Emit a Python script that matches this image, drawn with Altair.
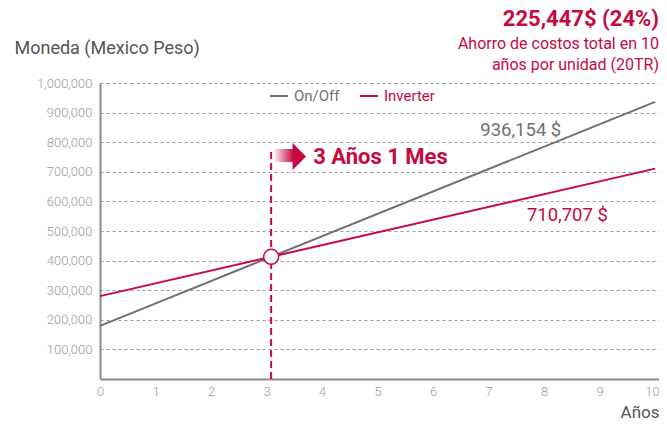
import altair as alt
import pandas as pd

# ---- data ----
years = [0, 10]
onoff_cost = [179500, 936154]
inverter_cost = [280000, 710707]
series_names = ["On/Off", "Inverter"]
series_colors = ["#707070", "#c6093f"]
x_ticks = [0, 1, 2, 3, 4, 5, 6, 7, 8, 9, 10]
y_ticks = [100000, 200000, 300000, 400000, 500000, 600000, 700000, 800000, 900000, 1000000]

break_year = 3.083
break_value = 412800
dash_top = 780000
arrow_shaft_x = [3.12, 3.48]
arrow_shaft_y = [733000, 777000]
arrow_head_x = [3.59]
arrow_head_y = [752000]
arrow_text = ["3 Años 1 Mes"]
arrow_text_x = [3.84]
arrow_text_y = [726000]
end_labels = ["936,154 $", "710,707 $"]
end_label_x = [6.85, 7.69]
end_label_y = [840000, 554000]

RED = series_colors[1]
GRAY = series_colors[0]
FONT = "Roboto"

rows = []
for yr, a, b in zip(years, onoff_cost, inverter_cost):
    rows.append({"Año": yr, "Costo": a, "Serie": series_names[0]})
    rows.append({"Año": yr, "Costo": b, "Serie": series_names[1]})
df = pd.DataFrame(rows)

W, H = 559, 296
xscale = alt.Scale(domain=[0, 10.07], nice=False, zero=False)
yscale = alt.Scale(domain=[0, 1000000], nice=False)

x_axis = alt.Axis(values=x_ticks, tickCount=11, format="d", grid=False, ticks=False,
                  domainColor="#8a8a8a", domainWidth=2,
                  labelColor="#9a9a9a", labelFont=FONT, labelFontSize=13,
                  labelFontWeight=300, labelPadding=6, labelOverlap=False,
                  labelAlign=alt.condition("datum.value >= 10", alt.value("right"), alt.value("center")),
                  labelOffset=alt.condition("datum.value >= 10", alt.value(4), alt.value(0)),
                  title="Años", titleFont=FONT, titleFontSize=17,
                  titleFontWeight="normal", titleColor="#555555",
                  titleAlign="right", titleAnchor="end", titleX=W, titleY=38,
                  titleBaseline="alphabetic")
y_axis = alt.Axis(values=y_ticks, tickCount=11, format=",d", ticks=False,
                  domainColor="#8a8a8a", domainWidth=2,
                  grid=True, gridDash=[3, 3], gridColor="#9a9a9a", gridWidth=1,
                  labelColor="#9a9a9a", labelFont=FONT, labelFontSize=13,
                  labelFontWeight=300, labelPadding=8, labelOverlap=False,
                  title="Moneda (Mexico Peso)", titleAngle=0, titleAlign="left",
                  titleBaseline="alphabetic", titleX=-86, titleY=-30,
                  titleFont=FONT, titleFontSize=18, titleFontWeight="normal",
                  titleColor="#555555")

lines = alt.Chart(df).mark_line(strokeWidth=2).encode(
    x=alt.X("Año:Q", scale=xscale, axis=x_axis),
    y=alt.Y("Costo:Q", scale=yscale, axis=y_axis),
    color=alt.Color("Serie:N",
                    scale=alt.Scale(domain=series_names, range=series_colors),
                    sort=series_names,
                    legend=alt.Legend(orient="none", legendX=169, legendY=3,
                                      direction="horizontal", title=None,
                                      symbolType="stroke", symbolStrokeWidth=2,
                                      symbolSize=324, labelFont=FONT,
                                      labelFontSize=15, labelOffset=5,
                                      columnPadding=16,
                                      labelColor={"expr": "datum.label == 'On/Off' ? '%s' : '%s'" % (GRAY, RED)})),
)

rule_df = pd.DataFrame({"x": [break_year], "y0": [0], "y1": [dash_top]})
rule = alt.Chart(rule_df).mark_rule(color=RED, strokeWidth=2, strokeDash=[7, 4]).encode(
    x="x:Q", y="y0:Q", y2="y1:Q")

shaft_df = pd.DataFrame({"x0": [arrow_shaft_x[0]], "x1": [arrow_shaft_x[1]],
                         "y0": [arrow_shaft_y[0]], "y1": [arrow_shaft_y[1]]})
shaft = alt.Chart(shaft_df).mark_rect(
    fill=alt.Gradient(gradient="linear",
                      stops=[alt.GradientStop(color="#ffffff", offset=0),
                             alt.GradientStop(color=RED, offset=1)],
                      x1=0, x2=1, y1=0, y2=0)
).encode(x="x0:Q", x2="x1:Q", y="y0:Q", y2="y1:Q")

head_df = pd.DataFrame({"x": arrow_head_x, "y": arrow_head_y})
head = alt.Chart(head_df).mark_point(
    shape="M-0.5,-1L0.5,0L-0.5,1Z", filled=True, fill=RED, opacity=1,
    strokeWidth=0, size=729).encode(x="x:Q", y="y:Q")

atext_df = pd.DataFrame({"x": arrow_text_x, "y": arrow_text_y, "t": arrow_text})
atext = alt.Chart(atext_df).mark_text(
    align="left", baseline="alphabetic", font=FONT, fontSize=22,
    fontWeight="bold", color=RED).encode(x="x:Q", y="y:Q", text="t:N")

lab_df = pd.DataFrame({"x": end_label_x, "y": end_label_y, "t": end_labels,
                       "Serie": series_names})
labels = alt.Chart(lab_df).mark_text(
    align="left", baseline="middle", font=FONT, fontSize=18.5).encode(
    x="x:Q", y="y:Q", text="t:N",
    color=alt.Color("Serie:N", scale=alt.Scale(domain=series_names, range=series_colors),
                    legend=None))

circ_df = pd.DataFrame({"x": [break_year], "y": [break_value]})
circle = alt.Chart(circ_df).mark_point(
    shape="circle", filled=True, fill="white", stroke=RED, strokeWidth=1.5,
    opacity=1, size=225).encode(x="x:Q", y="y:Q")

chart = alt.layer(lines, rule, shaft, head, atext, labels, circle).properties(
    width=W, height=H,
    autosize=alt.AutoSizeParams(type="none"),
    padding={"left": 92, "top": 75, "right": 0, "bottom": 45},
    title=alt.TitleParams(
        text="225,447$ (24%)",
        subtitle=["Ahorro de costos total en 10", "años por unidad (20TR)"],
        anchor="end", frame="group", orient="top", offset=-35,
        font=FONT, fontSize=22, fontWeight="bold", color=RED,
        subtitleFont=FONT, subtitleFontSize=16, subtitleColor=RED,
        subtitleLineHeight=21, subtitlePadding=5),
).configure_view(stroke=None)

chart.save("out.html", embed_options={"renderer": "svg", "actions": False})
